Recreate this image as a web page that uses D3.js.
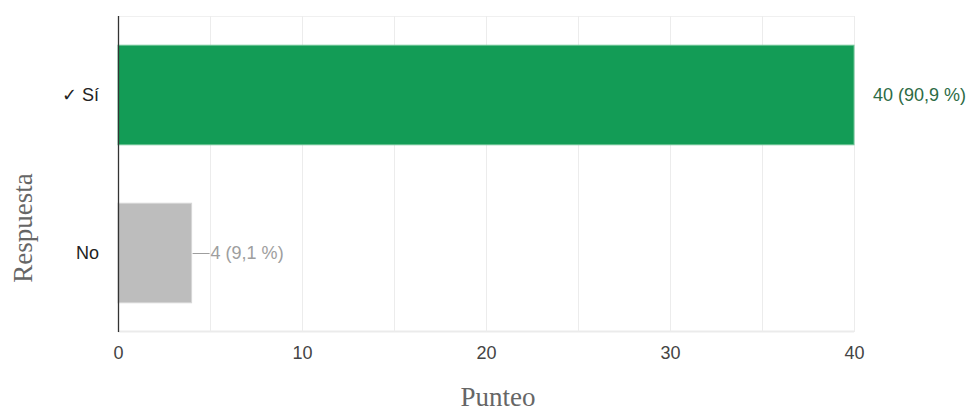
<!DOCTYPE html>
<html>
<head>
<meta charset="utf-8">
<script src="https://cdn.jsdelivr.net/npm/d3@7"></script>
<style>
  html, body { margin: 0; padding: 0; background: #fff; }
  svg { display: block; }
</style>
</head>
<body>
<svg id="chart" width="972" height="411"></svg>
<script>
// Survey answers and counts
const categories = ["✓ Sí", "No"];
const counts = [40, 4];
const percentLabels = ["90,9 %", "9,1 %"];
const barColors = ["#139c56", "#bdbdbd"];
const labelColors = ["#2d6b45", "#9e9e9e"];
const xTicks = [0, 10, 20, 30, 40];
const gridValues = [5, 10, 15, 20, 25, 30, 35, 40];

const sans = "'Liberation Sans', Arial, sans-serif";
const serif = "'Liberation Serif', 'Times New Roman', serif";

const svg = d3.select("#chart");
const margin = { left: 118, top: 16 };
const plotW = 854 - margin.left;
const plotH = 332 - margin.top;

const x = d3.scaleLinear().domain([0, 40]).range([margin.left, margin.left + plotW]);
const y = d3.scaleBand().domain(categories).range([margin.top, margin.top + plotH]).paddingInner(0.37).paddingOuter(0.185);

// plot frame lines (top and bottom)
svg.append("line").attr("x1", margin.left).attr("x2", margin.left + plotW)
  .attr("y1", margin.top + 0.5).attr("y2", margin.top + 0.5).attr("stroke", "#f0f0f0");
svg.append("line").attr("x1", margin.left).attr("x2", margin.left + plotW)
  .attr("y1", margin.top + plotH - 0.5).attr("y2", margin.top + plotH - 0.5).attr("stroke", "#ebebeb").attr("stroke-width", 2);

// vertical gridlines
svg.append("g").selectAll("line").data(gridValues).join("line")
  .attr("x1", d => Math.round(x(d)) + 0.5).attr("x2", d => Math.round(x(d)) + 0.5)
  .attr("y1", margin.top).attr("y2", margin.top + plotH)
  .attr("stroke", "#ececec").attr("stroke-width", 1);

// bars
svg.append("g").selectAll("rect").data(categories).join("rect")
  .attr("x", x(0))
  .attr("y", d => y(d))
  .attr("width", (d, i) => x(counts[i]) - x(0))
  .attr("height", y.bandwidth())
  .attr("fill", (d, i) => barColors[i])
  .attr("stroke", (d, i) => i === 0 ? "#6cc495" : "#d6d6d6")
  .attr("stroke-width", 1);

// value annotations
categories.forEach((c, i) => {
  const cy = y(c) + y.bandwidth() / 2;
  const end = x(counts[i]);
  if (i === 0) {
    svg.append("text").attr("x", end + 19).attr("y", cy).attr("dy", "0.35em")
      .attr("font-family", sans).attr("font-size", 18)
      .attr("fill", labelColors[i]).text(`${counts[i]} (${percentLabels[i]})`);
  } else {
    svg.append("line").attr("x1", end + 1).attr("x2", end + 18)
      .attr("y1", Math.round(cy) + 0.5).attr("y2", Math.round(cy) + 0.5)
      .attr("stroke", "#9e9e9e").attr("stroke-width", 1);
    svg.append("text").attr("x", end + 19).attr("y", cy).attr("dy", "0.35em")
      .attr("font-family", sans).attr("font-size", 18)
      .attr("fill", labelColors[i]).text(`${counts[i]} (${percentLabels[i]})`);
  }
});

// baseline axis line
svg.append("line").attr("x1", x(0) + 0.5).attr("x2", x(0) + 0.5)
  .attr("y1", margin.top).attr("y2", margin.top + plotH)
  .attr("stroke", "#333").attr("stroke-width", 1.3);

// x axis tick labels
const xAxis = d3.axisBottom(x).tickValues(xTicks).tickSize(0).tickPadding(14);
const gx = svg.append("g").attr("transform", `translate(0,${margin.top + plotH})`).call(xAxis);
gx.select(".domain").remove();
gx.selectAll("text").attr("font-family", sans).attr("font-size", 18).attr("fill", "#444");

// y axis category labels
const yAxis = d3.axisLeft(y).tickSize(0).tickPadding(19);
const gy = svg.append("g").attr("transform", `translate(${margin.left},0)`).call(yAxis);
gy.select(".domain").remove();
gy.selectAll("text").attr("font-family", sans).attr("font-size", 18).attr("fill", "#222");

// axis titles
svg.append("text").attr("x", 498).attr("y", 406)
  .attr("text-anchor", "middle")
  .attr("font-family", serif).attr("font-size", 27)
  .attr("fill", "#666").text("Punteo");

svg.append("text").attr("transform", `translate(32,228) rotate(-90)`)
  .attr("text-anchor", "middle")
  .attr("font-family", serif).attr("font-size", 27)
  .attr("fill", "#666").text("Respuesta");
</script>
</body>
</html>
